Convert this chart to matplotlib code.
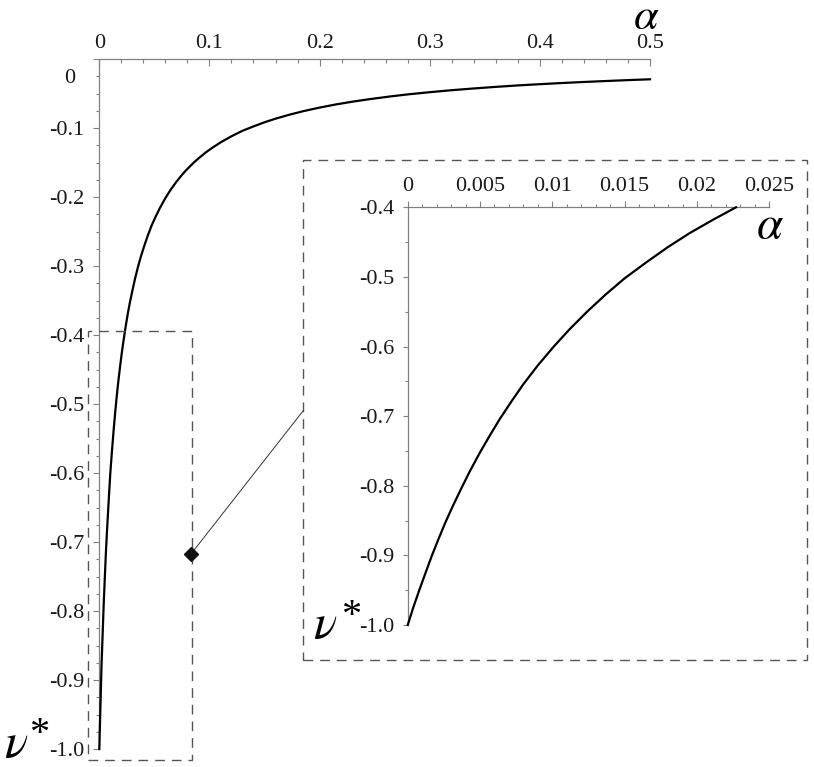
import matplotlib
matplotlib.use("Agg")
import matplotlib.pyplot as plt
from matplotlib.lines import Line2D
from matplotlib.patches import Rectangle

plt.rcParams['mathtext.fontset'] = 'stix'
plt.rcParams['font.family'] = ['Liberation Serif', 'DejaVu Serif']
plt.rcParams['axes.unicode_minus'] = False

# ---- data ----
alpha_main = [0, 0.001, 0.002, 0.003, 0.004, 0.005, 0.006, 0.007, 0.008, 0.009,
              0.010, 0.0115, 0.013, 0.0145, 0.016, 0.0175, 0.019, 0.0205, 0.022,
              0.024, 0.026, 0.028, 0.030, 0.0325, 0.035, 0.038, 0.041, 0.044,
              0.0476, 0.051, 0.055, 0.060, 0.065, 0.070, 0.075, 0.0793, 0.085,
              0.090, 0.097, 0.1035, 0.111, 0.120, 0.130, 0.140, 0.150, 0.160,
              0.172, 0.185, 0.200, 0.215, 0.230, 0.245, 0.264, 0.280, 0.300,
              0.320, 0.340, 0.360, 0.380, 0.400, 0.420, 0.440, 0.460, 0.480, 0.500]
nu_main = [-1.0, -0.94, -0.88, -0.835, -0.79, -0.752, -0.715, -0.684, -0.655, -0.627,
           -0.60, -0.568, -0.538, -0.511, -0.486, -0.464, -0.444, -0.425, -0.408,
           -0.387, -0.368, -0.351, -0.336, -0.318, -0.302, -0.285, -0.270, -0.256,
           -0.241, -0.229, -0.216, -0.2016, -0.189, -0.1779, -0.168, -0.1604, -0.1513,
           -0.1441, -0.135, -0.1277, -0.120, -0.112, -0.104, -0.0977, -0.0917, -0.0865,
           -0.081, -0.0757, -0.0704, -0.0658, -0.0618, -0.0583, -0.0543, -0.0513, -0.0481,
           -0.0452, -0.0427, -0.0404, -0.0383, -0.0365, -0.0348, -0.0333, -0.0319,
           -0.0306, -0.0294]

alpha_zoom = [0, 0.0004, 0.0008, 0.0012, 0.00166, 0.0021, 0.0026, 0.0031, 0.0037,
              0.0043, 0.005, 0.0057, 0.0064, 0.0072, 0.008, 0.009, 0.0101, 0.0112,
              0.0124, 0.0137, 0.0150, 0.0165, 0.018, 0.0195, 0.0211, 0.0227]
nu_zoom = [-1.0, -0.974, -0.950, -0.927, -0.901, -0.878, -0.853, -0.830, -0.804,
           -0.779, -0.752, -0.727, -0.703, -0.678, -0.654, -0.627, -0.600, -0.575,
           -0.550, -0.525, -0.502, -0.479, -0.457, -0.437, -0.418, -0.400]

main_xticks = [0, 0.1, 0.2, 0.3, 0.4, 0.5]
main_xlabels = ["0", "0.1", "0.2", "0.3", "0.4", "0.5"]
main_yticks = [0, -0.1, -0.2, -0.3, -0.4, -0.5, -0.6, -0.7, -0.8, -0.9, -1.0]
main_ylabels = ["", "-0.1", "-0.2", "-0.3", "-0.4", "-0.5", "-0.6", "-0.7", "-0.8", "-0.9", "-1.0"]

zoom_xticks = [0, 0.005, 0.01, 0.015, 0.02, 0.025]
zoom_xlabels = ["0", "0.005", "0.01", "0.015", "0.02", "0.025"]
zoom_yticks = [-0.4, -0.5, -0.6, -0.7, -0.8, -0.9, -1.0]
zoom_ylabels = ["-0.4", "-0.5", "-0.6", "-0.7", "-0.8", "-0.9", "-1.0"]

W, H = 814, 767
fig = plt.figure(figsize=(W / 100, H / 100), dpi=100)

def fx(px):
    return px / W

def fy(py):
    return 1 - py / H

axis_col = '#808080'
lab_col = '#1a1a1a'
tick_fs = 16

# ---- main axes ----
ax = fig.add_axes([fx(99.3), fy(749), fx(650) - fx(99.3), fy(59) - fy(749)])
ax.set_facecolor('none')
ax.plot(alpha_main, nu_main, color='black', lw=1.6, clip_on=False, zorder=3)
ax.set_xlim(0, 0.5)
ax.set_ylim(-1.0, 0)
for s in ['bottom', 'right']:
    ax.spines[s].set_visible(False)
for s in ['top', 'left']:
    ax.spines[s].set_color(axis_col)
    ax.spines[s].set_linewidth(0.9)
ax.xaxis.tick_top()
ax.set_xticks(main_xticks)
ax.set_xticklabels(main_xlabels)
ax.set_xticks([i * 0.02 for i in range(26)], minor=True)
ax.set_yticks(main_yticks)
ax.set_yticklabels(main_ylabels)
ax.set_yticks([-i * 0.025 for i in range(41)], minor=True)
ax.tick_params(axis='x', which='major', direction='in', length=5, width=0.8,
               color=axis_col, pad=4, labelsize=tick_fs, labelcolor=lab_col)
ax.tick_params(axis='x', which='minor', direction='in', length=3, width=0.8, color=axis_col)
ax.tick_params(axis='y', which='major', direction='out', length=4.5, width=0.8,
               color=axis_col, pad=6, labelsize=tick_fs, labelcolor=lab_col)
ax.tick_params(axis='y', which='minor', direction='out', length=2.5, width=0.8, color=axis_col)
# Maple-style offset "0" label on the vertical axis
ax.text(-0.022, -0.028, "0", ha='right', va='center', fontsize=tick_fs, color=lab_col)

fig.text(fx(646), fy(29), r'$\alpha$', fontsize=32, ha='center', va='baseline')
fig.text(fx(4), fy(757), r'$\nu$', fontsize=35, ha='left', va='baseline')
fig.text(fx(29), fy(716), '*', fontsize=29, ha='left', va='top')

# ---- zoom box in main plot and inset frame ----
dash = (0, (7, 5))
fig.add_artist(Rectangle((fx(88), fy(760)), fx(192) - fx(88), fy(331) - fy(760),
                         transform=fig.transFigure, fill=False, ec='#555555',
                         lw=1.0, ls=dash))
fig.add_artist(Rectangle((fx(303), fy(660)), fx(807) - fx(303), fy(160) - fy(660),
                         transform=fig.transFigure, fill=False, ec='#555555',
                         lw=1.0, ls=dash))
fig.add_artist(Line2D([fx(191), fx(303)], [fy(554), fy(411)], transform=fig.transFigure,
                      color='#333333', lw=0.7))
fig.add_artist(Line2D([fx(191)], [fy(554)], transform=fig.transFigure, marker='D',
                      markersize=7, color='#111111', ls='none'))

# ---- inset axes ----
ax2 = fig.add_axes([fx(407.7), fy(625), fx(769.3) - fx(407.7), fy(207.3) - fy(625)])
ax2.set_facecolor('none')
ax2.plot(alpha_zoom, nu_zoom, color='black', lw=1.6, clip_on=False, zorder=3)
ax2.set_xlim(0, 0.025)
ax2.set_ylim(-1.0, -0.4)
for s in ['bottom', 'right']:
    ax2.spines[s].set_visible(False)
for s in ['top', 'left']:
    ax2.spines[s].set_color(axis_col)
    ax2.spines[s].set_linewidth(0.9)
ax2.xaxis.tick_top()
ax2.set_xticks(zoom_xticks)
ax2.set_xticklabels(zoom_xlabels)
ax2.set_xticks([i * 0.001 for i in range(26)], minor=True)
ax2.set_yticks(zoom_yticks)
ax2.set_yticklabels(zoom_ylabels)
ax2.set_yticks([-0.4 - i * 0.05 for i in range(13)], minor=True)
ax2.tick_params(axis='x', which='major', direction='out', length=4, width=0.8,
                color=axis_col, pad=4, labelsize=tick_fs, labelcolor=lab_col)
ax2.tick_params(axis='x', which='minor', direction='out', length=2, width=0.8, color=axis_col)
ax2.tick_params(axis='y', which='major', direction='out', length=3.5, width=0.8,
                color=axis_col, pad=6, labelsize=tick_fs, labelcolor=lab_col)
ax2.tick_params(axis='y', which='minor', direction='out', length=2, width=0.8, color=axis_col)

fig.text(fx(770), fy(238), r'$\alpha$', fontsize=34, ha='center', va='baseline')
fig.text(fx(313), fy(638), r'$\nu$', fontsize=35, ha='left', va='baseline')
fig.text(fx(341), fy(598), '*', fontsize=29, ha='left', va='top')

fig.savefig('out.png', dpi=100)
